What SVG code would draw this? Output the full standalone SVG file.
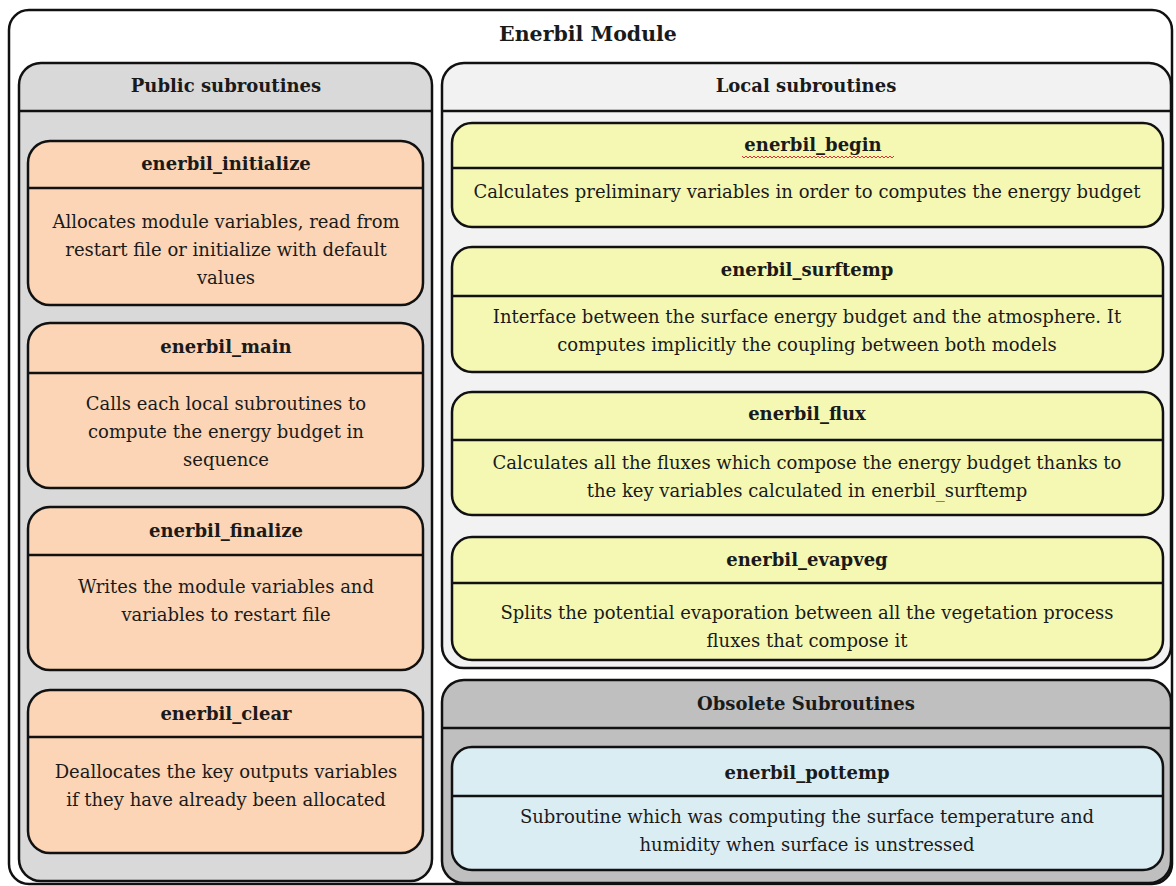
<svg xmlns="http://www.w3.org/2000/svg" width="1176" height="886" viewBox="0 0 1176 886">
<style>
.box{stroke:#111;stroke-width:2.5}
.div{stroke:#111;stroke-width:2.5}
.t{font-family:"DejaVu Serif","Liberation Serif",serif;fill:#1a1a1a;text-anchor:middle}
.h{font-size:18px;font-weight:bold}
.b{font-size:18px}
.pub{fill:#d9d9d9}
.loc{fill:#f2f2f2}
.obs{fill:#bfbfbf}
.or{fill:#fbd5b5}
.ye{fill:#f4f8b3}
.bl{fill:#daedf3}
</style>
<rect width="1176" height="886" fill="#ffffff"/>
<g id="module">
<rect class="box" x="9" y="10" width="1163" height="874" rx="20" fill="#ffffff"/>
<text class="t" x="588" y="41" style="font-size:20.5px;font-weight:bold">Enerbil Module</text>
</g>
<g id="public">
<rect class="box pub" x="19" y="63" width="413" height="818" rx="22"/>
<line class="div" x1="19" y1="111" x2="432" y2="111"/>
<text class="t h" x="226" y="92">Public subroutines</text>
</g>
<g id="enerbil_initialize">
<rect class="box or" x="28" y="141" width="395" height="164" rx="22"/>
<line class="div" x1="28" y1="188" x2="423" y2="188"/>
<text class="t h" x="226" y="170">enerbil_initialize</text>
<text class="t b" x="226" y="228">Allocates module variables, read from</text>
<text class="t b" x="226" y="256">restart file or initialize with default</text>
<text class="t b" x="226" y="284">values</text>
</g>
<g id="enerbil_main">
<rect class="box or" x="28" y="323" width="395" height="165" rx="22"/>
<line class="div" x1="28" y1="373" x2="423" y2="373"/>
<text class="t h" x="226" y="353">enerbil_main</text>
<text class="t b" x="226" y="410">Calls each local subroutines to</text>
<text class="t b" x="226" y="438">compute the energy budget in</text>
<text class="t b" x="226" y="466">sequence</text>
</g>
<g id="enerbil_finalize">
<rect class="box or" x="28" y="507" width="395" height="163" rx="22"/>
<line class="div" x1="28" y1="555" x2="423" y2="555"/>
<text class="t h" x="226" y="537">enerbil_finalize</text>
<text class="t b" x="226" y="593">Writes the module variables and</text>
<text class="t b" x="226" y="621">variables to restart file</text>
</g>
<g id="enerbil_clear">
<rect class="box or" x="28" y="690" width="395" height="163" rx="22"/>
<line class="div" x1="28" y1="737" x2="423" y2="737"/>
<text class="t h" x="226" y="720">enerbil_clear</text>
<text class="t b" x="226" y="778">Deallocates the key outputs variables</text>
<text class="t b" x="226" y="806">if they have already been allocated</text>
</g>
<g id="local">
<rect class="box loc" x="442" y="63" width="729" height="605" rx="22"/>
<line class="div" x1="442" y1="111" x2="1171" y2="111"/>
<text class="t h" x="806" y="92">Local subroutines</text>
</g>
<g id="enerbil_begin">
<rect class="box ye" x="452" y="123" width="711" height="104" rx="20"/>
<line class="div" x1="452" y1="168" x2="1163" y2="168"/>
<text class="t h" x="813" y="151">enerbil_begin</text>
<path d="M742,156 l2,2 l2,-2 l2,2 l2,-2 l2,2 l2,-2 l2,2 l2,-2 l2,2 l2,-2 l2,2 l2,-2 l2,2 l2,-2 l2,2 l2,-2 l2,2 l2,-2 l2,2 l2,-2 l2,2 l2,-2 l2,2 l2,-2 l2,2 l2,-2 l2,2 l2,-2 l2,2 l2,-2 l2,2 l2,-2 l2,2 l2,-2 l2,2 l2,-2 l2,2 l2,-2 l2,2 l2,-2 l2,2 l2,-2 l2,2 l2,-2 l2,2 l2,-2 l2,2 l2,-2 l2,2 l2,-2 l2,2 l2,-2 l2,2 l2,-2 l2,2 l2,-2 l2,2 l2,-2 l2,2 l2,-2 l2,2 l2,-2 l2,2 l2,-2 l2,2 l2,-2 l2,2 l2,-2 l2,2 l2,-2 l2,2 l2,-2 l2,2 l2,-2 l2,2 l2,-2" fill="none" stroke="#e03030" stroke-width="1"/>
<text class="t b" x="807" y="198">Calculates preliminary variables in order to computes the energy budget</text>
</g>
<g id="enerbil_surftemp">
<rect class="box ye" x="452" y="247" width="711" height="125" rx="20"/>
<line class="div" x1="452" y1="296" x2="1163" y2="296"/>
<text class="t h" x="807" y="276">enerbil_surftemp</text>
<text class="t b" x="807" y="323">Interface between the surface energy budget and the atmosphere. It</text>
<text class="t b" x="807" y="351">computes implicitly the coupling between both models</text>
</g>
<g id="enerbil_flux">
<rect class="box ye" x="452" y="392" width="711" height="123" rx="20"/>
<line class="div" x1="452" y1="440" x2="1163" y2="440"/>
<text class="t h" x="807" y="420">enerbil_flux</text>
<text class="t b" x="807" y="469">Calculates all the fluxes which compose the energy budget thanks to</text>
<text class="t b" x="807" y="497">the key variables calculated in enerbil_surftemp</text>
</g>
<g id="enerbil_evapveg">
<rect class="box ye" x="452" y="537" width="711" height="123" rx="20"/>
<line class="div" x1="452" y1="583" x2="1163" y2="583"/>
<text class="t h" x="807" y="566">enerbil_evapveg</text>
<text class="t b" x="807" y="619">Splits the potential evaporation between all the vegetation process</text>
<text class="t b" x="807" y="647">fluxes that compose it</text>
</g>
<g id="obsolete">
<rect class="box obs" x="442" y="680" width="729" height="203" rx="22"/>
<line class="div" x1="442" y1="728" x2="1171" y2="728"/>
<text class="t h" x="806" y="710">Obsolete Subroutines</text>
</g>
<g id="enerbil_pottemp">
<rect class="box bl" x="452" y="747" width="711" height="123" rx="20"/>
<line class="div" x1="452" y1="796" x2="1163" y2="796"/>
<text class="t h" x="807" y="779">enerbil_pottemp</text>
<text class="t b" x="807" y="823">Subroutine which was computing the surface temperature and</text>
<text class="t b" x="807" y="851">humidity when surface is unstressed</text>
</g>
<g id="connectors"></g>
</svg>
